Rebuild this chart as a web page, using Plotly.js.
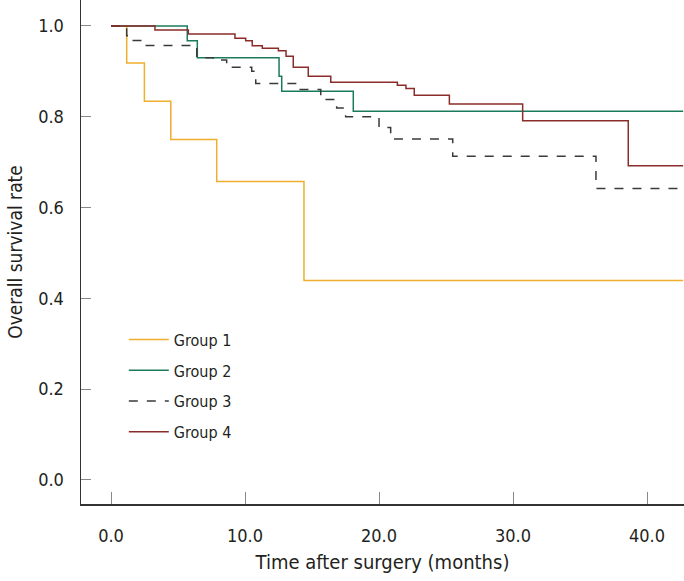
<!DOCTYPE html>
<html>
<head>
<meta charset="utf-8">
<script src="https://cdn.plot.ly/plotly-3.0.1.min.js"></script>
<style>html,body{margin:0;padding:0;background:#fff;}#chart{width:684px;height:581px;}</style>
</head>
<body>
<div id="chart"></div>
<script>
// Kaplan-Meier step data (time in months, survival rate)
var groupNames = ["Group 1", "Group 2", "Group 3", "Group 4"];

var g1Time = [0, 1.17, 2.49, 4.46, 7.89, 14.4, 42.7];
var g1Surv = [1.0, 0.918, 0.834, 0.75, 0.657, 0.439, 0.439];

var g2Time = [0, 5.69, 6.44, 12.54, 12.74, 18.08, 42.7];
var g2Surv = [1.0, 0.967, 0.930, 0.889, 0.856, 0.812, 0.812];

var g3Time = [0, 1.17, 1.66, 2.49, 6.4, 7.63, 8.63, 10.5, 10.8, 13.86, 15.65, 16.84, 17.51, 20.0, 20.87, 25.5, 36.19, 42.7];
var g3Surv = [1.0, 0.978, 0.968, 0.957, 0.930, 0.925, 0.909, 0.900, 0.873, 0.860, 0.838, 0.819, 0.800, 0.776, 0.751, 0.713, 0.642, 0.642];

var g4Time = [0, 3.28, 5.77, 9.25, 10.05, 10.54, 11.29, 12.49, 13.06, 13.6, 14.72, 16.4, 21.37, 22.01, 22.63, 25.25, 30.72, 38.6, 42.7];
var g4Surv = [1.0, 0.991, 0.982, 0.973, 0.967, 0.956, 0.951, 0.945, 0.933, 0.909, 0.889, 0.876, 0.869, 0.862, 0.847, 0.828, 0.791, 0.692, 0.692];

var xTicks = [0, 10, 20, 30, 40];
var yTicks = [0, 0.2, 0.4, 0.6, 0.8, 1.0];

var FONT = "'DejaVu Sans Condensed', 'Liberation Sans Narrow', 'Liberation Sans', sans-serif";

function trace(name, x, y, color, dash) {
  return {
    type: "scatter", mode: "lines", name: name, x: x, y: y,
    legendgroup: name,
    line: {shape: "hv", color: color, width: 1.5, dash: dash || "solid"},
    hoverinfo: "skip"
  };
}

var data = [
  trace(groupNames[0], g1Time, g1Surv, "#F0AE2E"),
  trace(groupNames[1], g2Time, g2Surv, "#1C7A5C"),
  trace(groupNames[2], g3Time, g3Surv, "#3a3a3a", "dash"),
  trace(groupNames[3], g4Time, g4Surv, "#8A2D2A")
];

var layout = {
  width: 684, height: 581,
  margin: {l: 81, r: 0, t: 0, b: 77, pad: 0},
  paper_bgcolor: "#fff", plot_bgcolor: "#fff",
  font: {family: FONT, size: 18, color: "#231f20"},
  showlegend: true,
  legend: {
    x: 0.071, y: 0.36, xanchor: "left", yanchor: "top",
    bgcolor: "rgba(0,0,0,0)", borderwidth: 0,
    itemwidth: 40, tracegroupgap: 7,
    font: {family: FONT, size: 16, color: "#231f20"}
  },
  xaxis: {
    range: [-2.24, 42.76], tickvals: xTicks, tickformat: ".1f",
    ticks: "inside", ticklen: 12, tickwidth: 1, tickcolor: "#888",
    showline: true, linecolor: "#333", linewidth: 1.5,
    showgrid: false, zeroline: false, ticklabelstandoff: 15,
    title: {text: "Time after surgery (months)", font: {family: FONT, size: 20}, standoff: 10},
    tickfont: {family: FONT, size: 18}
  },
  yaxis: {
    range: [-0.053, 1.057], tickvals: yTicks, tickformat: ".1f",
    ticks: "inside", ticklen: 10, tickwidth: 1, tickcolor: "#888",
    showline: true, linecolor: "#333", linewidth: 1.5,
    showgrid: false, zeroline: false, ticklabelstandoff: 12,
    title: {text: "Overall survival rate", font: {family: FONT, size: 19}, standoff: 10},
    tickfont: {family: FONT, size: 18}
  }
};

Plotly.newPlot("chart", data, layout, {displayModeBar: false, staticPlot: true});
</script>
</body>
</html>
